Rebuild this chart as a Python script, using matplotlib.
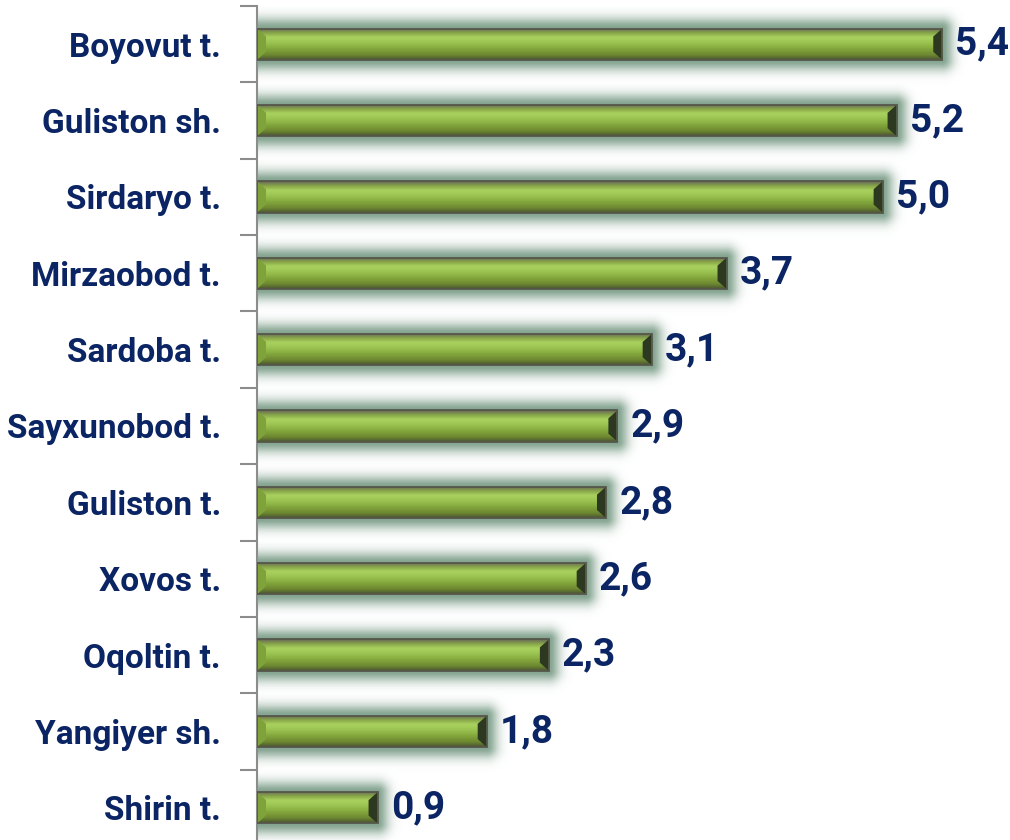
import numpy as np
import matplotlib
matplotlib.use("Agg")
import matplotlib.pyplot as plt
from matplotlib.patches import Polygon, Rectangle
from matplotlib.colors import LinearSegmentedColormap

categories = ["Boyovut t.", "Guliston sh.", "Sirdaryo t.", "Mirzaobod t.", "Sardoba t.",
              "Sayxunobod t.", "Guliston t.", "Xovos t.", "Oqoltin t.", "Yangiyer sh.", "Shirin t."]
# bar lengths as drawn in the picture
values = [5.40, 5.04, 4.93, 3.70, 3.11, 2.84, 2.75, 2.59, 2.30, 1.81, 0.95]
# data labels as printed
value_labels = ["5,4", "5,2", "5,0", "3,7", "3,1", "2,9", "2,8", "2,6", "2,3", "1,8", "0,9"]

NAVY = "#0b2463"
W, H = 1010, 840
fig = plt.figure(figsize=(W / 100, H / 100), dpi=100)
ax_left_px, ax_top_px, ax_h_px = 257, 6, 840
ax = fig.add_axes([ax_left_px / W, 1 - (ax_top_px + ax_h_px) / H, (W - ax_left_px) / W, ax_h_px / H])

n = len(categories)
px_per_unit = 126.9
xmax = (W - ax_left_px) / px_per_unit
ax.set_xlim(0, xmax)
ax.set_ylim(n - 0.5, -0.5)
ypos = np.arange(n)
bar_h = 0.41

# glow image (in axes pixel grid)
nx, ny = W - ax_left_px, ax_h_px
xs = (np.arange(nx) + 0.5) / px_per_unit
ys = -0.5 + (np.arange(ny) + 0.5) / ny * n
XX, YY = np.meshgrid(xs, ys)
alpha = np.zeros_like(XX)
band_px = ny / n
for y, v in zip(ypos, values):
    dx = np.maximum(np.maximum(0 - XX, XX - v), 0) * px_per_unit
    dy = np.maximum(np.abs(YY - y) - bar_h / 2, 0) * band_px
    d = np.hypot(dx, dy)
    a = 0.95 * np.exp(-(d / 11.0) ** 2)
    alpha = np.maximum(alpha, a)
glow = np.zeros((ny, nx, 4))
glow[..., 0] = 125 / 255
glow[..., 1] = 158 / 255
glow[..., 2] = 138 / 255
glow[..., 3] = alpha
ax.imshow(glow, extent=(0, xmax, n - 0.5, -0.5), aspect="auto", zorder=1, interpolation="bilinear")

bars = ax.barh(ypos, values, height=bar_h, color="none", edgecolor="none", zorder=2)

grad_cols = ["#66665a", "#87a548", "#a9d25f", "#9dc654", "#8db444", "#7c9c38", "#6b8630", "#4a5434"]
cmap = LinearSegmentedColormap.from_list("g", grad_cols)
grad = np.linspace(0, 1, 64).reshape(-1, 1)

by = 8.0 / band_px   # bevel vertical in data units
bx = 9.0 / px_per_unit

for rect, v in zip(bars, values):
    x0, y0 = rect.get_x(), rect.get_y()
    w, h = rect.get_width(), rect.get_height()
    im = ax.imshow(grad, cmap=cmap, extent=(x0, x0 + w, y0 + h, y0), aspect="auto",
                   zorder=3, interpolation="bicubic")
    clip = Rectangle((x0, y0), w, h, transform=ax.transData)
    im.set_clip_path(clip)
    top, bot = y0, y0 + h
    # right bevel (dark)
    ax.add_patch(Polygon([(x0 + w, top), (x0 + w - bx, top + by), (x0 + w - bx, bot - by), (x0 + w, bot)],
                         closed=True, facecolor="#2d3820", edgecolor="none", zorder=4))
    # left bevel (light)
    ax.add_patch(Polygon([(x0, top), (x0 + bx, top + by), (x0 + bx, bot - by), (x0, bot)],
                         closed=True, facecolor="#7fa23a", edgecolor="none", zorder=4))
    ax.add_patch(Rectangle((x0, y0), w, h, facecolor="none", edgecolor="#55574a", linewidth=1.3, zorder=5))

for y, v, lab in zip(ypos, values, value_labels):
    ax.annotate(lab, (v, y), xytext=(9.5, 0), textcoords="offset points", ha="left", va="center",
                fontsize=28, fontweight="bold", color=NAVY, family=["Roboto", "DejaVu Sans"], zorder=6)

ax.set_yticks(ypos)
ax.set_yticklabels(categories, fontsize=24, fontweight="bold", color=NAVY, family=["Roboto", "DejaVu Sans"])
ax.tick_params(axis="y", which="major", length=0, pad=26)
ax.set_yticks(np.arange(-0.5, n, 1.0), minor=True)
ax.tick_params(axis="y", which="minor", length=12, width=1.5, color="#8c8c8c")
ax.set_xticks([])
for s in ["top", "right", "bottom"]:
    ax.spines[s].set_visible(False)
ax.spines["left"].set_color("#8c8c8c")
ax.spines["left"].set_linewidth(1.5)
ax.set_facecolor("white")

fig.savefig("out.png", dpi=100)
